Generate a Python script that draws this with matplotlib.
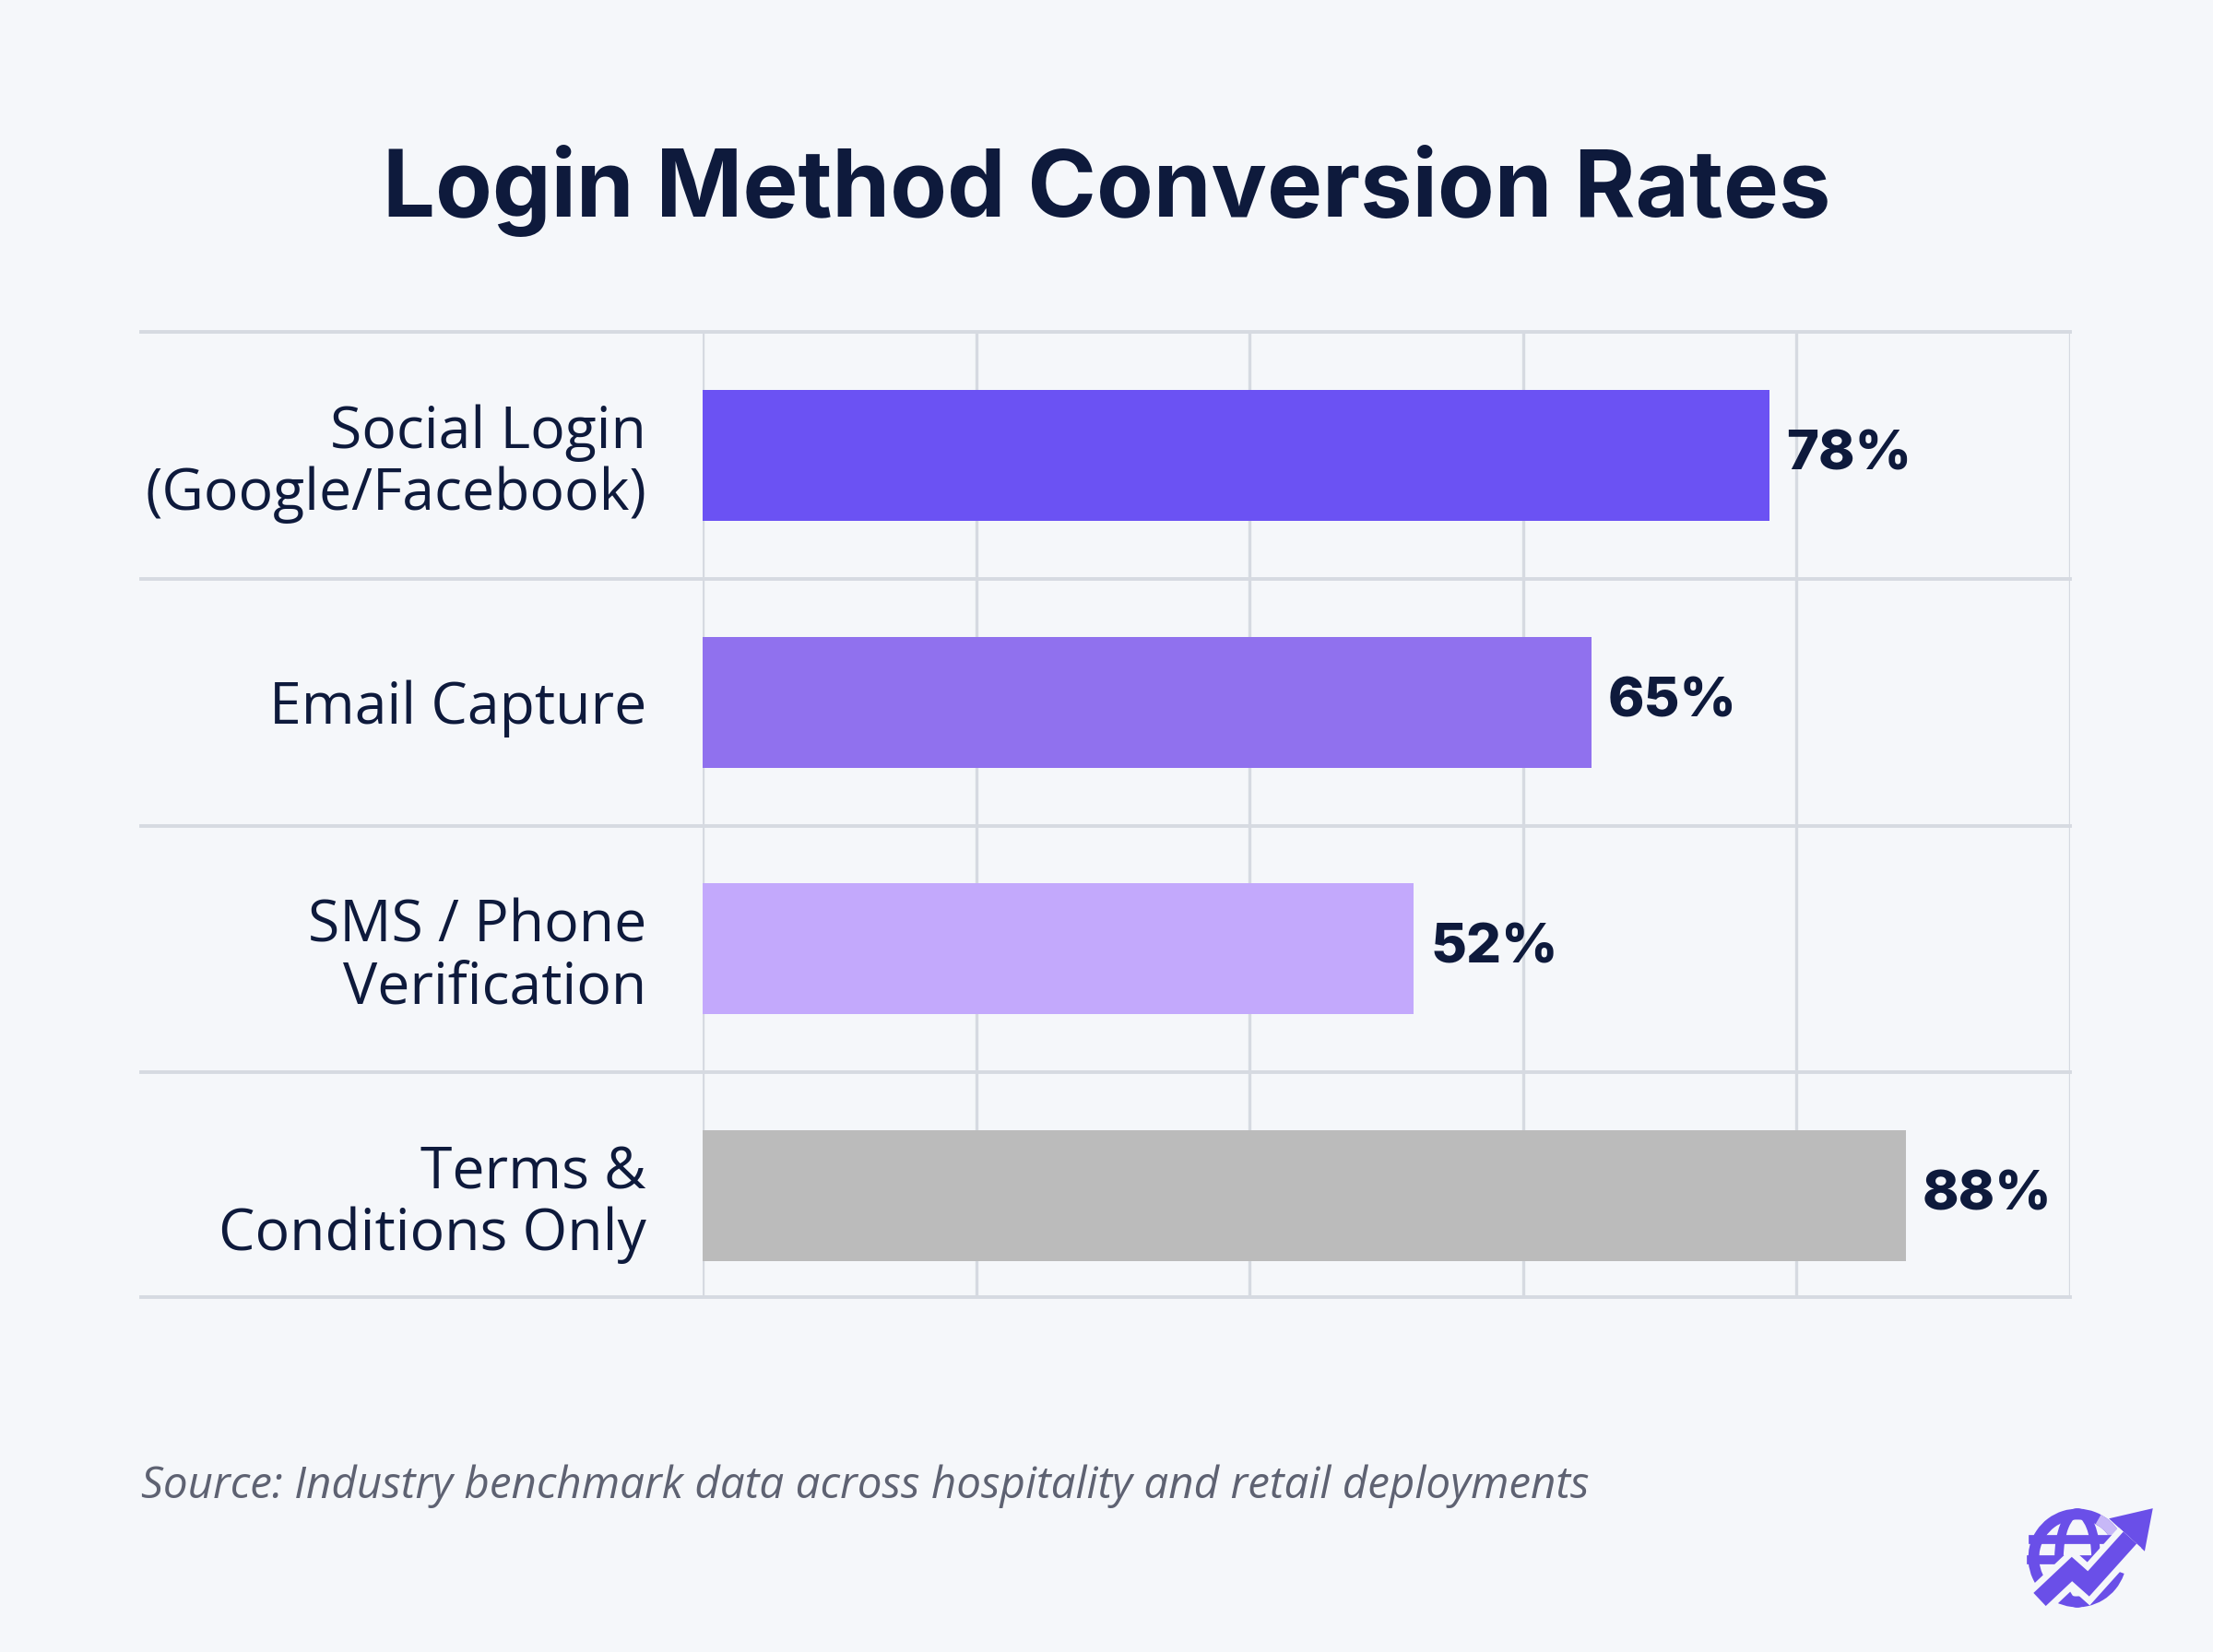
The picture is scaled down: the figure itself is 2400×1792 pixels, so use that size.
import matplotlib
matplotlib.use("Agg")
import matplotlib.pyplot as plt
from matplotlib.patches import Circle, Ellipse, Polygon, Wedge
import numpy as np

# ---- data ----
categories = ["Social Login\n(Google/Facebook)", "Email Capture",
              "SMS / Phone\nVerification", "Terms &\nConditions Only"]
values = [78, 65, 52, 88]
value_labels = ["78%", "65%", "52%", "88%"]
bar_colors = ["#6B52F3", "#9071EE", "#C3A9FC", "#BBBBBB"]
x_ticks = [0, 20, 40, 60, 80, 100]

title = "Login Method Conversion Rates"
source = "Source: Industry benchmark data across hospitality and retail deployments"

BG = "#F5F7FA"
NAVY = "#0E1A3C"
GRID = "#D6DAE1"

W, H = 2400, 1792
fig = plt.figure(figsize=(12, 8.96), dpi=200, facecolor=BG)

# axes placement (pixel based)
L, R, T, B = 762, 2245, 360, 1407
ax = fig.add_axes([L / W, 1 - B / H, (R - L) / W, (B - T) / H])
ax.set_facecolor(BG)

y = np.arange(len(categories))
ax.barh(y, values, height=0.53, color=bar_colors, zorder=3)
ax.set_xlim(0, 100)
ax.set_ylim(3.41, -0.5)

for s in ax.spines.values():
    s.set_visible(False)

# vertical grid
for xt in x_ticks:
    ax.axvline(xt, color=GRID, lw=1.2, zorder=1)
ax.set_xticks([])

# horizontal row lines extending into the label column
xmin_ext = (153 - L) / (R - L)
for yb in [-0.5, 0.5, 1.5, 2.5, 3.41]:
    ax.axhline(yb, xmin=xmin_ext, xmax=1, color=GRID, lw=1.4, clip_on=False, zorder=1)

ax.set_yticks(y)
ax.set_yticklabels(categories, fontfamily="Open Sans", fontsize=22.5, color=NAVY,
                   linespacing=1.08)
ax.tick_params(axis="y", length=0, pad=22)

for yi, v, lab in zip(y, values, value_labels):
    ax.annotate(lab, (v, yi), xytext=(6.5, 0), textcoords="offset points",
                ha="left", va="center", fontfamily="Inter", fontweight="heavy",
                fontsize=21.5, color=NAVY, zorder=4)

fig.text(0.5, 1 - 207 / H, title, ha="center", va="center", fontfamily="Inter",
         fontweight="bold", fontsize=36.3, color=NAVY)

fig.text(153 / W, 1 - 1612 / H, source, ha="left", va="center", fontfamily="Open Sans",
         fontstyle="italic", fontsize=17.1, color="#5E6272")

# ---- logo (decorative) ----
lax = fig.add_axes([2190 / W, 1 - 1750 / H, 160 / W, 130 / H])
lax.set_xlim(2190, 2350)
lax.set_ylim(1750, 1620)
lax.set_aspect("equal")
lax.axis("off")
PUR = "#6A4FE8"
cx, cy, r = 2253, 1690, 52
lax.add_patch(Wedge((cx, cy), r, 20, 330, width=9, color=PUR))
lax.add_patch(Ellipse((cx, cy), 40, 2 * r - 6, fill=False, ec=PUR, lw=3.5))
lax.plot([cx - r + 4, cx + r - 10], [cy - 20, cy - 20], color=PUR, lw=3.5)
lax.plot([cx - r + 2, cx + r - 20], [cy + 2, cy + 2], color=PUR, lw=3.5)
lax.add_patch(Wedge((cx, cy), r, 300, 340, width=9, color="#C7B8F7"))
arrow_x = [2212, 2247, 2265, 2310]
arrow_y = [1735, 1702, 1718, 1668]
lax.plot(arrow_x, arrow_y, color=BG, lw=12, solid_joinstyle="miter", solid_capstyle="butt")
lax.plot(arrow_x, arrow_y, color=PUR, lw=7, solid_joinstyle="miter", solid_capstyle="butt")
lax.add_patch(Polygon([[2333, 1638], [2290, 1648], [2325, 1680]], closed=True, color=PUR))

fig.savefig("out.png", dpi=200, facecolor=BG)
